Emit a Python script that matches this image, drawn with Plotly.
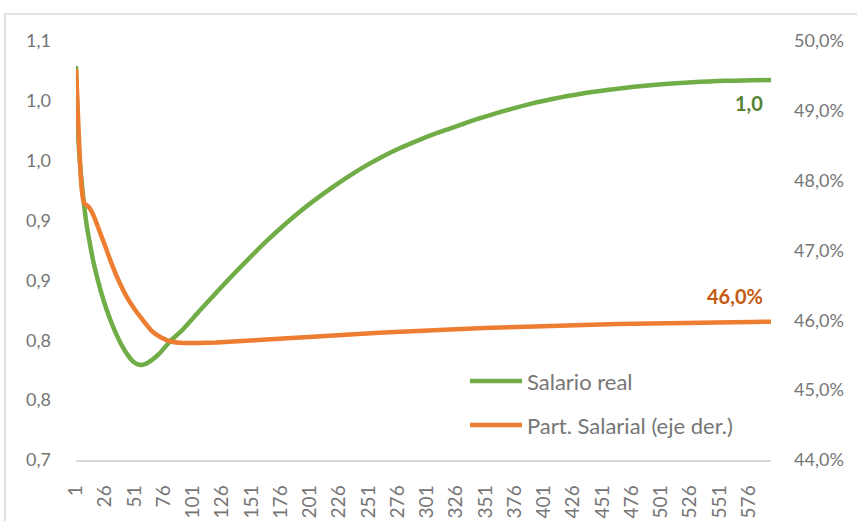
import plotly.graph_objects as go
from decimal import Decimal, ROUND_HALF_UP

# Salario real (left axis)
periodo_salario = [1, 2, 3, 4, 5, 7, 10, 13, 16, 20, 25, 30, 35, 40, 45, 50, 55, 60, 66, 72,
                   81, 92, 106, 121, 135, 150, 164, 178, 192, 207, 221, 235, 250, 264, 278,
                   293, 307, 321, 336, 350, 364, 378, 392, 407, 421, 435, 449, 464, 478, 492,
                   507, 521, 535, 549, 563, 579, 595]
salario_real = [1.029, 0.992, 0.969, 0.953, 0.941, 0.921, 0.897, 0.880, 0.865, 0.849, 0.832,
                0.818, 0.806, 0.796, 0.788, 0.782, 0.7795, 0.780, 0.7836, 0.7886, 0.7987,
                0.8087, 0.8240, 0.8399, 0.8545, 0.8695, 0.8830, 0.8955, 0.9072, 0.9185,
                0.9283, 0.9375, 0.9465, 0.9540, 0.9606, 0.9668, 0.9722, 0.9770, 0.9822,
                0.9867, 0.9908, 0.9946, 0.9981, 1.0013, 1.0040, 1.0063, 1.0083, 1.0101,
                1.0117, 1.0130, 1.0142, 1.0152, 1.0159, 1.0165, 1.0169, 1.0172, 1.0174]

# Participación salarial, % (right axis)
periodo_part = [1, 2, 3, 4, 5, 6, 7, 8, 9, 10, 12, 14, 17, 21, 26, 31, 37, 44, 51, 58, 65, 73,
                82, 93, 106, 121, 150, 178, 207, 235, 264, 293, 321, 350, 378, 407, 435, 464,
                492, 521, 549, 579, 595]
part_salarial = [49.599, 49.227, 48.797, 48.410, 48.081, 47.866, 47.737, 47.680, 47.659,
                 47.651, 47.623, 47.570, 47.460, 47.280, 47.060, 46.830, 46.585, 46.348,
                 46.162, 46.005, 45.861, 45.761, 45.697, 45.675, 45.675, 45.682, 45.711,
                 45.740, 45.768, 45.797, 45.826, 45.847, 45.869, 45.890, 45.904, 45.919,
                 45.933, 45.947, 45.954, 45.962, 45.969, 45.976, 45.98]

x_ticks = list(range(1, 577, 25))
left_ticks = [0.70, 0.75, 0.80, 0.85, 0.90, 0.95, 1.00, 1.05]
right_ticks = [44, 45, 46, 47, 48, 49, 50]

GREEN = "#70AD47"
ORANGE = "#ED7D31"
GREY = "#767676"
FONT = "Lato"


def fmt1(v, suffix=""):
    d = Decimal(str(v)).quantize(Decimal("0.1"), rounding=ROUND_HALF_UP)
    return f"{d}".replace(".", ",") + suffix


fig = go.Figure()
fig.add_trace(go.Scatter(x=periodo_salario, y=salario_real, mode="lines",
                         name="Salario real",
                         line=dict(color=GREEN, width=4.5, shape="spline", smoothing=0.6),
                         yaxis="y"))
fig.add_trace(go.Scatter(x=periodo_part, y=part_salarial, mode="lines",
                         name="Part. Salarial (eje der.)",
                         line=dict(color=ORANGE, width=4.5, shape="spline", smoothing=0.5),
                         yaxis="y2"))

# value labels at the last period
fig.add_annotation(x=periodo_salario[-1], y=salario_real[-1], xref="x", yref="y",
                   text=f"<b>{fmt1(salario_real[-1])}</b>", showarrow=False,
                   xshift=-22, yshift=-23,
                   font=dict(family=FONT, size=20, color="#548235"))
fig.add_annotation(x=periodo_part[-1], y=part_salarial[-1], xref="x", yref="y2",
                   text=f"<b>{fmt1(part_salarial[-1], '%')}</b>", showarrow=False,
                   xshift=-36, yshift=26,
                   font=dict(family=FONT, size=20, color="#C55A11"))

# legend drawn inside the plot area
W, H, L, T = 695, 419, 76, 41


def px(x):
    return (x - L) / W


def py(y):
    return 1 - (y - T) / H


for yy, col, label in [(381, GREEN, "Salario real"), (425, ORANGE, "Part. Salarial (eje der.)")]:
    fig.add_shape(type="line", xref="paper", yref="paper",
                  x0=px(470), x1=px(522), y0=py(yy), y1=py(yy),
                  line=dict(color=col, width=4.5))
    fig.add_annotation(xref="paper", yref="paper", x=px(525), y=py(yy), text=label,
                       showarrow=False, xanchor="left", yanchor="middle",
                       font=dict(family=FONT, size=22, color=GREY))

# chart frame
fig.add_shape(type="rect", xref="paper", yref="paper",
              x0=px(5), x1=px(900), y0=py(560), y1=py(14),
              line=dict(color="#D9D9D9", width=1.5), fillcolor="rgba(0,0,0,0)", layer="below")

fig.update_layout(
    width=857, height=521,
    margin=dict(l=L, r=857 - L - W, t=T, b=521 - T - H, autoexpand=False),
    paper_bgcolor="white", plot_bgcolor="white",
    showlegend=False,
    font=dict(family=FONT, size=18, color=GREY),
    separators=",.",
    xaxis=dict(range=[1, 595], tickvals=x_ticks, ticktext=[str(t) for t in x_ticks],
               tickangle=-90, showgrid=False, zeroline=False, showline=True,
               linecolor="#D9D9D9", linewidth=1.5, ticks="", ticklabelstandoff=16,
               automargin=False,
               tickfont=dict(family=FONT, size=19, color=GREY)),
    yaxis=dict(range=[0.70, 1.05], tickvals=left_ticks,
               ticktext=[fmt1(v) for v in left_ticks], showgrid=False, zeroline=False,
               ticks="", ticklabelstandoff=24, automargin=False,
               tickfont=dict(family=FONT, size=18, color=GREY)),
    yaxis2=dict(range=[44, 50], tickvals=right_ticks,
                ticktext=[fmt1(v, "%") for v in right_ticks], overlaying="y", side="right",
                showgrid=False, zeroline=False, ticks="", ticklabelstandoff=22,
                automargin=False,
                tickfont=dict(family=FONT, size=18, color=GREY)),
)

fig.write_html("out.html")
